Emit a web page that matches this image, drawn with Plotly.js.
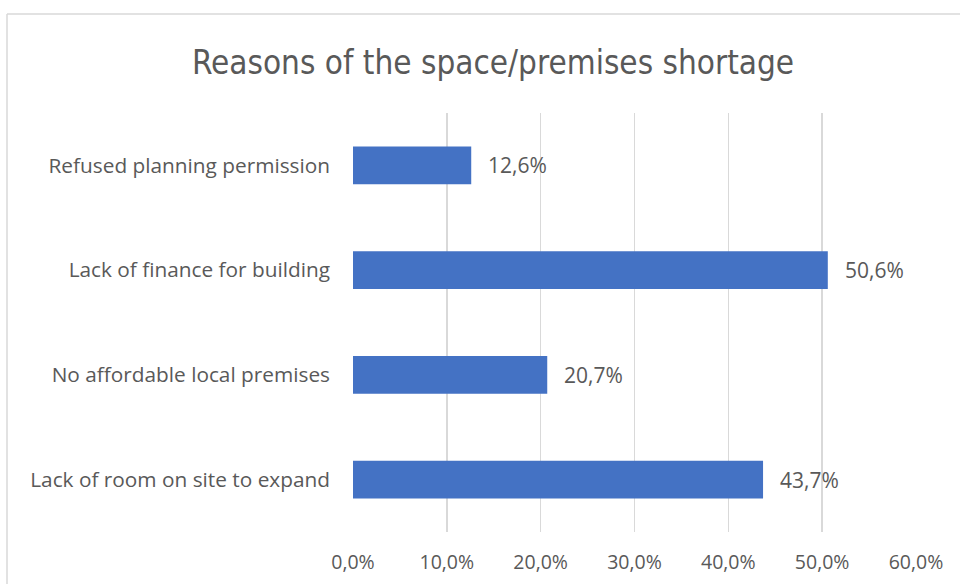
<!DOCTYPE html>
<html>
<head>
<meta charset="utf-8">
<script src="https://cdn.plot.ly/plotly-3.0.1.min.js"></script>
<style>
html,body{margin:0;padding:0;background:#fff;overflow:hidden;}
#chart{width:960px;height:584px;}
</style>
</head>
<body>
<div id="chart"></div>
<script>
// Data (top to bottom as shown)
const categories = [
  "Refused planning permission",
  "Lack of finance for building",
  "No affordable local premises",
  "Lack of room on site to expand"
];
const values = [12.6, 50.6, 20.7, 43.7];
const valueLabels = ["12,6%", "50,6%", "20,7%", "43,7%"];
const tickValues = [0, 10, 20, 30, 40, 50, 60];
const tickLabels = ["0,0%", "10,0%", "20,0%", "30,0%", "40,0%", "50,0%", "60,0%"];
const chartTitle = "Reasons of the space/premises shortage";

const textColor = "#595959";
const labelFont = "Open Sans, Noto Sans, sans-serif";

const trace = {
  type: "bar",
  orientation: "h",
  x: values,
  y: categories,
  marker: {color: "#4472C4", line: {width: 0}},
  hoverinfo: "none"
};

const annotations = values.map((v, i) => ({
  x: v, y: categories[i], xref: "x", yref: "y",
  text: valueLabels[i], showarrow: false,
  xanchor: "left", yanchor: "middle", xshift: 15,
  font: {family: labelFont, size: 21, color: textColor}
}));

// plot area geometry
const W = 960, H = 584, L = 353, R = 44, T = 113, B = 52;
const pw = W - L - R, ph = H - T - B;
const px = p => (p - L) / pw;
const py = p => (H - B - p) / ph;

const layout = {
  width: W, height: H,
  margin: {l: L, r: R, t: T, b: B, pad: 0},
  paper_bgcolor: "#ffffff",
  plot_bgcolor: "#ffffff",
  showlegend: false,
  bargap: 0.64,
  title: {
    text: chartTitle,
    font: {family: "Liberation Sans Narrow, DejaVu Sans Condensed, Arial Narrow, sans-serif", size: 33, color: textColor},
    xref: "container", yref: "container",
    x: 493 / W, y: 1 - 62 / H, xanchor: "center", yanchor: "middle"
  },
  xaxis: {
    range: [0, 60],
    tickvals: tickValues,
    ticktext: tickLabels,
    showgrid: true, gridcolor: "#d9d9d9", gridwidth: 1.5,
    zeroline: false, showline: false, ticks: "",
    ticklabelstandoff: 16,
    tickfont: {family: labelFont, size: 19.5, color: textColor},
    fixedrange: true
  },
  yaxis: {
    autorange: "reversed",
    showgrid: false, zeroline: false, showline: false, ticks: "",
    ticklabelstandoff: 22,
    tickfont: {family: labelFont, size: 20.8, color: textColor},
    fixedrange: true
  },
  annotations: annotations,
  shapes: [
    {type: "line", xref: "paper", yref: "paper", x0: px(7), x1: px(7), y0: py(14), y1: py(700),
     line: {color: "#d9d9d9", width: 1.5}, layer: "below"},
    {type: "line", xref: "paper", yref: "paper", x0: px(7), x1: px(1200), y0: py(14), y1: py(14),
     line: {color: "#d9d9d9", width: 1.5}, layer: "below"}
  ]
};

Plotly.newPlot("chart", [trace], layout, {displayModeBar: false, staticPlot: true});
</script>
</body>
</html>
